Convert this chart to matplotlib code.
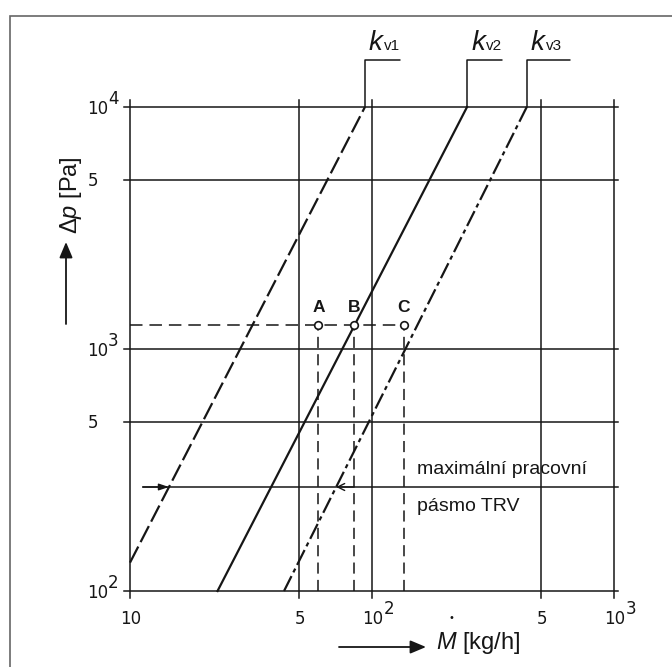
import numpy as np
import matplotlib
matplotlib.use('Agg')
from matplotlib import pyplot as plt
from matplotlib.patches import Rectangle

# FIGURE SIZE IN PIXELS
W, H = 672, 667

# GRID / TICKS
x_grid = [10, 50, 100, 500, 1000]
x_base = ['10', '5', '10', '5', '10']
x_exp = ['', '', '2', '', '3']
y_grid = [100, 500, 1000, 5000, 10000]
y_base = ['10', '5', '10', '5', '10']
y_exp = ['2', '', '3', '', '4']

# KV CURVES (endpoints), M [kg/h] vs dp [Pa]
kv1_m = [10, 93.5]
kv1_dp = [131, 10000]
kv2_m = [23, 247]
kv2_dp = [100, 10000]
kv3_m = [43.3, 436]
kv3_dp = [100, 10000]
kv_sub = ['v1', 'v2', 'v3']

# WORKING POINTS A, B, C
pt_labels = ['A', 'B', 'C']
pt_m = [60, 84.4, 135.5]
pt_dp = 1260

# WORKING BAND OF TRV
band_dp = 269
band_start = 11.3
band_text_m = 154
band_text = ['maximální pracovní', 'pásmo TRV']

ink = '#161616'
sans = 'Liberation Sans'
plt.rcParams['lines.scale_dashes'] = False
plt.rcParams['mathtext.fontset'] = 'custom'
plt.rcParams['mathtext.it'] = 'Liberation Sans:italic'
plt.rcParams['mathtext.rm'] = 'Liberation Sans'


def fpx(x, y):
    # picture pixels -> figure fraction
    return (x / W, 1 - y / H)


def m_at(m, dp, target):
    return 10 ** np.interp(np.log10(target), np.log10(dp), np.log10(m))


fig = plt.figure(figsize=(W / 100, H / 100), dpi=100)
ax = fig.add_axes([130 / W, 1 - 591 / H, 484 / W, 484 / H])
ax.set_xscale('log')
ax.set_yscale('log')
ax.set_xlim(10, 1000)
ax.set_ylim(100, 10000)
ax.axis('off')

# GRID
for x in x_grid:
    ax.axvline(x, ymin=-0.014, ymax=1.015, color=ink, lw=1.1, clip_on=False)
for y in y_grid:
    ax.axhline(y, xmin=-0.013, xmax=1.008, color=ink, lw=1.1, clip_on=False)

# TICK LABELS
for x, b, e in zip(x_grid, x_base, x_exp):
    ax.annotate(b, (x, 100), xytext=(1, -33), textcoords='offset pixels',
                ha='center', va='baseline', fontsize=12, color=ink)
    if e:
        ax.annotate(e, (x, 100), xytext=(12, -23), textcoords='offset pixels',
                    ha='left', va='baseline', fontsize=12, color=ink)
for y, b, e in zip(y_grid, y_base, y_exp):
    if e:
        ax.annotate(b, (10, y), xytext=(-22, -7), textcoords='offset pixels',
                    ha='right', va='baseline', fontsize=12, color=ink)
        ax.annotate(e, (10, y), xytext=(-22, 3), textcoords='offset pixels',
                    ha='left', va='baseline', fontsize=12, color=ink)
    else:
        ax.annotate(b, (10, y), xytext=(-37, -6), textcoords='offset pixels',
                    ha='center', va='baseline', fontsize=12, color=ink)

# KV CURVES
curves = [(kv1_m, kv1_dp, (0, (13, 3.6))),
          (kv2_m, kv2_dp, '-'),
          (kv3_m, kv3_dp, (0, (12, 3, 3, 3)))]
leader_len = [35, 35, 43]
for (m, dp, ls), sub, ll in zip(curves, kv_sub, leader_len):
    ax.plot(m, dp, color=ink, lw=1.6, linestyle=ls, clip_on=False)
    top = (m[-1], dp[-1])
    ax.annotate('', xy=top, xytext=(ll, 47), textcoords='offset pixels',
                arrowprops=dict(arrowstyle='-', color=ink, lw=1.1, shrinkA=0, shrinkB=0,
                                connectionstyle='angle,angleA=0,angleB=90,rad=0'))
    ax.annotate('k', top, xytext=(4, 57), textcoords='offset pixels', ha='left',
                va='baseline', fontsize=20, style='italic', family=sans, color=ink)
    ax.annotate(sub, top, xytext=(19, 57), textcoords='offset pixels', ha='left',
                va='baseline', fontsize=11, family=sans, color=ink)

# A B C GUIDES
ax.plot([10, pt_m[-1]], [pt_dp, pt_dp], color=ink, lw=1.1, linestyle=(0, (9, 5)))
for m in pt_m:
    ax.plot([m, m], [100, pt_dp], color=ink, lw=1.1, linestyle=(0, (8, 4.5)))
ax.plot(pt_m, [pt_dp] * len(pt_m), 'o', mfc='white', mec=ink, ms=5.5, mew=1.2, zorder=5)
for lab, m in zip(pt_labels, pt_m):
    ax.annotate(lab, (m, pt_dp), xytext=(0, 10), textcoords='offset pixels', ha='center',
                va='bottom', fontsize=12.5, fontweight='bold', family=sans, color=ink)

# WORKING BAND
x0 = (np.log10(band_start) - 1) / 2
ax.axhline(band_dp, xmin=x0, xmax=1.008, color=ink, lw=1.1, clip_on=False)
ax.annotate('', xy=(m_at(kv1_m, kv1_dp, band_dp), band_dp), xytext=(band_start, band_dp),
            arrowprops=dict(arrowstyle='-|>,head_length=0.6,head_width=0.2', color=ink,
                            lw=1.0, shrinkA=0, shrinkB=0))
ax.annotate('', xy=(m_at(kv3_m, kv3_dp, band_dp), band_dp), xytext=(18, 0),
            textcoords='offset pixels',
            arrowprops=dict(arrowstyle='->,head_length=0.5,head_width=0.25', color=ink,
                            lw=1.0, shrinkA=0, shrinkB=0))
ax.annotate(band_text[0], (band_text_m, band_dp), xytext=(0, 17), textcoords='offset pixels',
            ha='left', va='center', fontsize=14, family=sans, color=ink)
ax.annotate(band_text[1], (band_text_m, band_dp), xytext=(0, -20), textcoords='offset pixels',
            ha='left', va='center', fontsize=14, family=sans, color=ink)

# AXIS LABELS WITH ARROWS
fig.text(*fpx(436, 643), '$M$ [kg/h]', fontsize=17, family=sans,
         ha='left', va='center', color=ink)
fig.text(*fpx(451, 618), '•', fontsize=7, ha='center', va='center', color=ink)
ax.annotate('', xy=fpx(426, 647), xycoords='figure fraction', xytext=fpx(339, 647),
            textcoords='figure fraction',
            arrowprops=dict(arrowstyle='-|>,head_length=0.95,head_width=0.4', color=ink,
                            lw=1.3, shrinkA=0, shrinkB=0))
fig.text(*fpx(71, 195), 'Δ$p$ [Pa]', rotation=90, fontsize=17, family=sans,
         ha='center', va='center', color=ink)
ax.annotate('', xy=fpx(66, 242), xycoords='figure fraction', xytext=fpx(66, 324),
            textcoords='figure fraction',
            arrowprops=dict(arrowstyle='-|>,head_length=0.95,head_width=0.4', color=ink,
                            lw=1.3, shrinkA=0, shrinkB=0))

# FRAME (only top and left edges fall inside the picture)
fig.add_artist(Rectangle((9.5 / W, -0.1), 1.2, 1 - 16 / H + 0.1, transform=fig.transFigure,
                         fill=False, ec='#666666', lw=1.2))

fig.savefig('out.png', dpi=100)
